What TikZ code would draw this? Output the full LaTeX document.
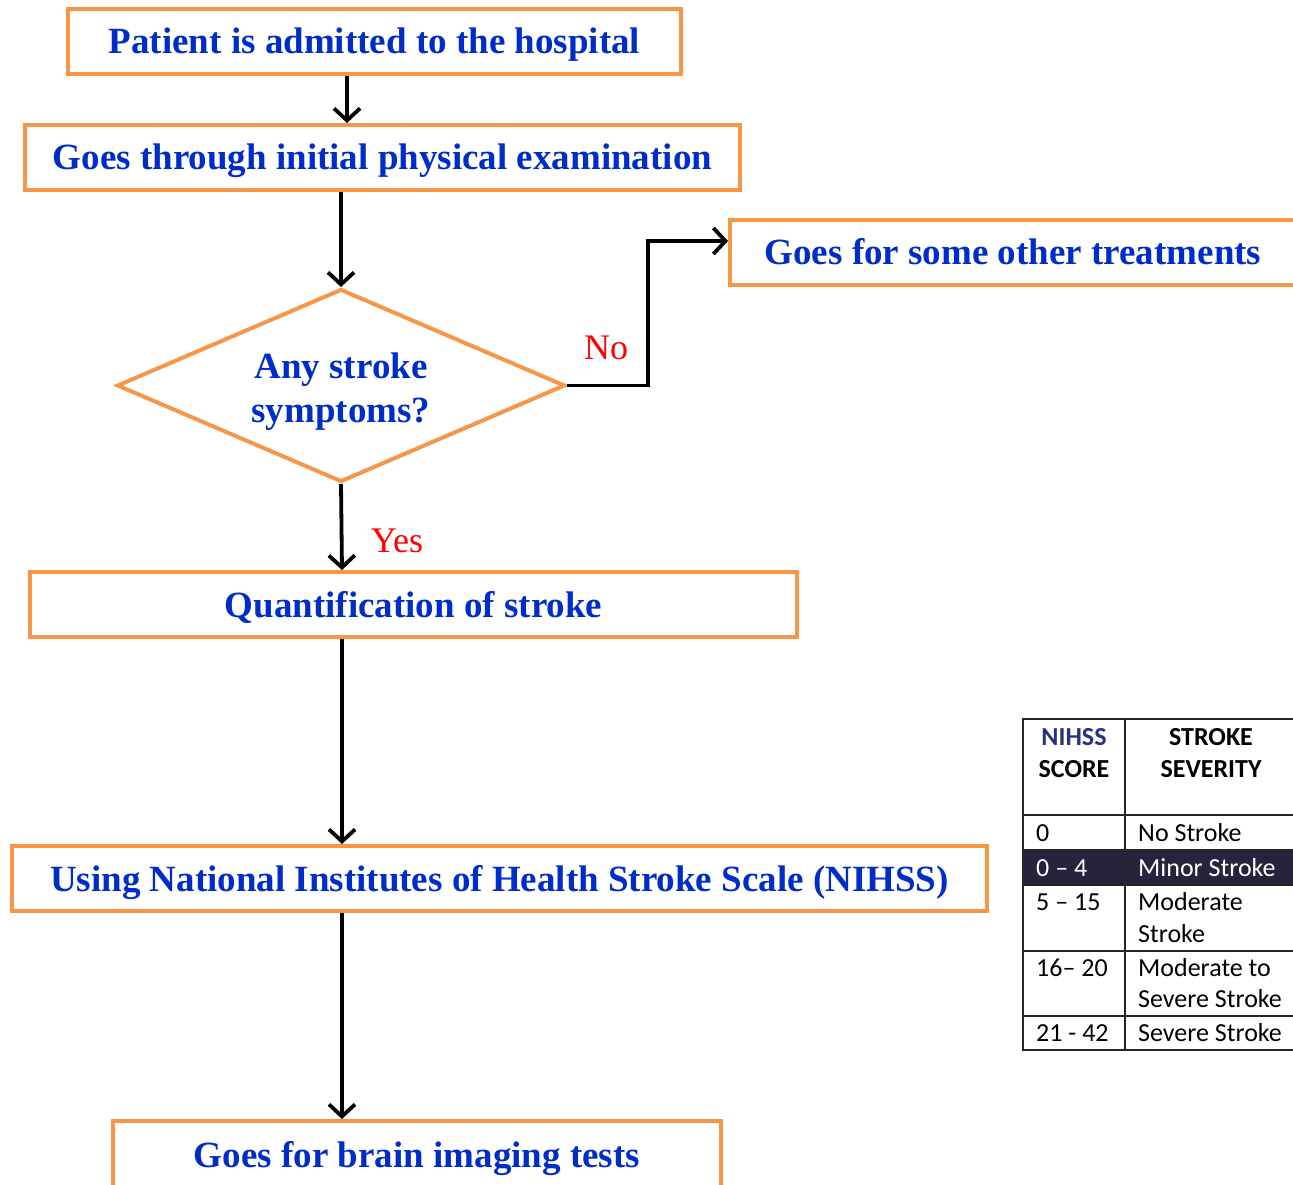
\documentclass[tikz,border=0pt]{standalone}
\usepackage{fontspec}
\setmainfont{Liberation Serif}
\newfontfamily\tablefont{Carlito}
\usetikzlibrary{arrows.meta,shapes.geometric}
\definecolor{boxorange}{RGB}{247,150,70}
\definecolor{boxblue}{RGB}{0,45,200}
\definecolor{rowdark}{RGB}{40,34,60}
\definecolor{headnavy}{RGB}{40,50,125}
\begin{document}
\begin{tikzpicture}[x=1pt,y=-1pt,
  flowbox/.style={draw=boxorange, line width=4pt, fill=white, inner sep=0pt,
    text=boxblue, font=\fontsize{37}{44}\selectfont\bfseries,
    text height=25pt, text depth=0pt, minimum height=65pt},
  flowarrow/.style={line width=3.8pt,
    -{Straight Barb[length=12pt,width=26pt,line width=3.8pt]}},
  answer/.style={text=red, font=\fontsize{36}{40}\selectfont, inner sep=0pt},
  cell/.style={font=\tablefont\fontsize{26}{30}\selectfont, inner sep=0pt,
    text height=16.5pt, text depth=0pt, anchor=west},
  headcell/.style={font=\tablefont\bfseries\fontsize{26}{30}\selectfont, inner sep=0pt,
    text height=16.5pt, text depth=0pt},
  tableline/.style={line width=2pt, draw=black!85}]
\useasboundingbox (0,0) rectangle (1293,1185);
\clip (0,0) rectangle (1293,1185);

% flowchart boxes
\node[flowbox, minimum width=613pt] (b1) at (374.5,41.5) {Patient is admitted to the hospital};
\node[flowbox, minimum width=715pt] (b2) at (382.5,157.5) {Goes through initial physical examination};
\node[draw=boxorange, line width=4pt, diamond, inner sep=0pt, aspect=2.3,
      minimum width=448pt, minimum height=193pt] (d) at (341,385.5) {};
\node[text=boxblue, font=\fontsize{37}{44}\selectfont\bfseries, align=center, inner sep=0pt]
      (dq) at (341,392) {Any stroke\\symptoms?};
\node[flowbox, minimum width=566pt] (b4) at (1013,252.5) {Goes for some other treatments};
\node[flowbox, minimum width=767pt] (b5) at (413.5,604.5) {Quantification of stroke};
\node[flowbox, minimum width=975pt] (b6) at (499.5,878.5) {Using National Institutes of Health Stroke Scale (NIHSS)};
\node[flowbox, minimum width=608pt, minimum height=68pt] (b7) at (417,1155) {Goes for brain imaging tests};

% connector guides
\coordinate (x1) at (347,0);
\coordinate (x2) at (341,0);
\coordinate (x3) at (342,0);
\coordinate (nobend) at (648,241);

% connectors
\draw[flowarrow] (x1 |- b1.south) -- (x1 |- b2.north);
\draw[flowarrow] (x2 |- b2.south) -- (d.north);
\draw[flowarrow] (d.east) -| (nobend) -- (b4.west |- nobend);
\draw[flowarrow] (d.south) -- (x3 |- b5.north);
\draw[flowarrow] (x3 |- b5.south) -- (x3 |- b6.north);
\draw[flowarrow] (x3 |- b6.south) -- (x3 |- b7.north);

\node[answer] (no) at (606,348) {No};
\node[answer] (yes) at (397,541) {Yes};

% NIHSS table
\fill[rowdark] (1023,850) rectangle (1296,885);
\draw[tableline] (1023,815) -- (1296,815);
\draw[tableline] (1023,850) -- (1296,850);
\draw[tableline] (1023,885) -- (1296,885);
\draw[tableline] (1023,951) -- (1296,951);
\draw[tableline] (1023,1016) -- (1296,1016);
\draw[tableline] (1125,719) -- (1125,1050);
\draw[line width=2.5pt, draw=black!85] (1296,719) -- (1023,719) -- (1023,1050) -- (1296,1050);

\node[headcell, text=headnavy] (h1) at (1074,737) {NIHSS};
\node[headcell] (h2) at (1074,769) {SCORE};
\node[headcell] (h3) at (1211,737) {STROKE};
\node[headcell] (h4) at (1211,769) {SEVERITY};

\node[cell] (s1) at (1036,833) {0};
\node[cell] (v1) at (1138,833) {No Stroke};
\node[cell, text=white] (s2) at (1036,868) {0 – 4};
\node[cell, text=white] (v2) at (1138,868) {Minor Stroke};
\node[cell] (s3) at (1036,902) {5 – 15};
\node[cell] (v3) at (1138,902) {Moderate};
\node[cell] (v3b) at (1138,934) {Stroke};
\node[cell] (s4) at (1036,968) {16– 20};
\node[cell] (v4) at (1138,968) {Moderate to};
\node[cell] (v4b) at (1138,999) {Severe Stroke};
\node[cell] (s5) at (1036,1033) {21 - 42};
\node[cell] (v5) at (1138,1033) {Severe Stroke};
\end{tikzpicture}
\end{document}
